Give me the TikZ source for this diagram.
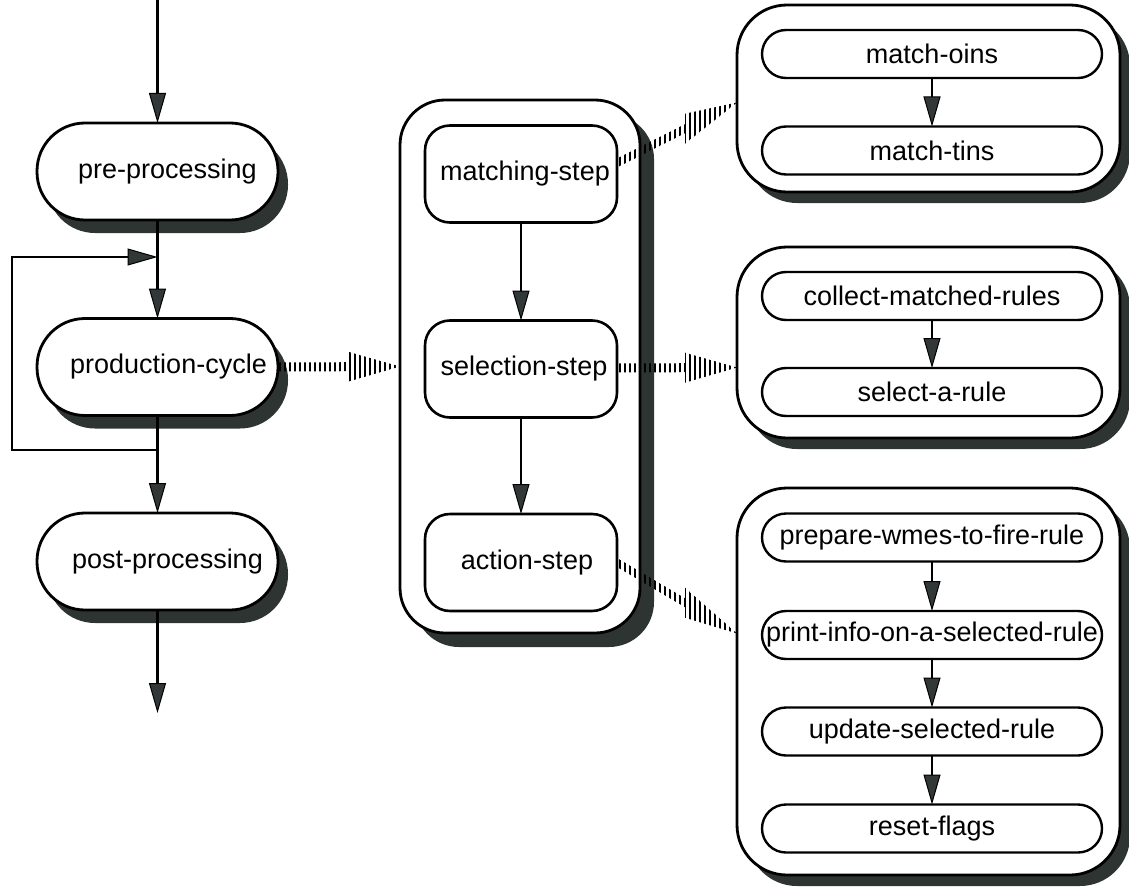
\documentclass[tikz,border=0pt]{standalone}
\usepackage{fontspec}
\setmainfont{Liberation Sans}
\usetikzlibrary{arrows.meta,shadows,calc,patterns.meta}
\definecolor{shadowc}{RGB}{45,52,50}
\definecolor{headc}{RGB}{50,55,55}
\tikzset{
  base/.style={draw=black, line width=2.6pt, fill=white, inner sep=0pt, outer sep=0pt,
    font=\fontsize{27}{32}\selectfont},
  lstad/.style={base, line width=2.8pt, minimum width=241pt, minimum height=97pt, rounded corners=48pt,
    drop shadow={shadow xshift=10pt, shadow yshift=-13pt, fill=shadowc, opacity=1}},
  midbox/.style={base, minimum width=192pt, minimum height=97pt, rounded corners=25pt},
  midouter/.style={base, line width=2.8pt, minimum width=240pt, minimum height=533pt, rounded corners=45pt,
    drop shadow={shadow xshift=14pt, shadow yshift=-14pt, fill=shadowc, opacity=1}},
  router/.style={base, line width=2.8pt, minimum width=383pt, rounded corners=50pt,
    drop shadow={shadow xshift=10pt, shadow yshift=-11pt, fill=shadowc, opacity=1}},
  rstad/.style={base, line width=2.4pt, minimum width=340pt, minimum height=48pt, rounded corners=24pt},
  arr/.style={line width=2.2pt, draw=black,
    -{Triangle[length=30pt,width=17pt,line width=1pt,fill=headc]}},
  hatch/.style={pattern={Lines[angle=90,distance=5pt,line width=2.6pt]}, pattern color=black},
}
\newcommand\hatchconn[2]{%
  \fill[hatch] let \p1=(#1), \p2=(#2), \n1={52/(\x2-\x1)}, \n2={\y1+(\y2-\y1)*(1-\n1)} in
   (\x1,{\y1+4.5pt}) -- ({\x2-52pt},{\n2*1pt+4.5pt}) -- ({\x2-52pt},{\n2*1pt+15pt}) -- (\p2)
   -- ({\x2-52pt},{\n2*1pt-15pt}) -- ({\x2-52pt},{\n2*1pt-4.5pt}) -- (\x1,{\y1-4.5pt}) -- cycle;}
\begin{document}
\begin{tikzpicture}[x=1pt,y=-1pt]
\useasboundingbox (0,0) rectangle (1129,888);

% left column
\node[lstad] (pre) at (157.5,171.5) {\hspace*{20pt}pre-processing};
\node[lstad] (prod) at (157.5,367) {\hspace*{22pt}production-cycle};
\node[lstad] (post) at (157.5,561.5) {\hspace*{20pt}post-processing};

\coordinate (top) at (157.5,0);
\coordinate (j1) at (157.5,257);
\coordinate (j2) at (157.5,450);
\coordinate (lb) at (12,450);
\coordinate (bot) at (157.5,713);

\draw[arr] (top) -- (pre.north);
\draw[arr] (pre.south) -- (prod.north);
\draw[arr] (prod.south) -- (post.north);
\draw[arr] (j2) -- (lb) |- (j1);
\draw[arr] (post.south) -- (bot);

% middle column
\node[midouter] (mid) at (520,366.5) {};
\node[midbox] (ms) at (521,174) {\hspace*{8pt}matching-step};
\node[midbox] (ss) at (521,369) {\hspace*{6pt}selection-step};
\node[midbox] (as) at (521,562.5) {\hspace*{12pt}action-step};
\draw[arr] (ms.south) -- (ss.north);
\draw[arr] (ss.south) -- (as.north);

% right column
\node[router, minimum height=187pt] (box1) at (928.5,98.5) {};
\node[rstad] (mo) at (932,54) {match-oins};
\node[rstad] (mt) at (932,150.5) {match-tins};
\draw[arr] (mo.south) -- (mt.north);

\node[router, minimum height=191pt] (box2) at (928.5,342.5) {};
\node[rstad] (cm) at (932,296) {collect-matched-rules};
\node[rstad] (sr) at (932,392) {select-a-rule};
\draw[arr] (cm.south) -- (sr.north);

\node[router, minimum height=387pt] (box3) at (928.5,681.5) {};
\node[rstad] (pw) at (932,537.5) {prepare-wmes-to-fire-rule};
\node[rstad] (pi) at (932,635) {print-info-on-a-selected-rule};
\node[rstad] (us) at (932,731.5) {update-selected-rule};
\node[rstad] (rf) at (932,828.5) {reset-flags};
\draw[arr] (pw.south) -- (pi.north);
\draw[arr] (pi.south) -- (us.north);
\draw[arr] (us.south) -- (rf.north);

% hatched connectors
\coordinate (h1s) at (prod.east);
\coordinate (h1e) at (mid.west);
\coordinate (h2s) at ($(ms.east)+(0,-11)$);
\coordinate (h2e) at ($(box1.west)+(0,4)$);
\coordinate (h3s) at ($(ss.east)+(0,-1)$);
\coordinate (h3e) at ($(box2.west)+(0,25)$);
\coordinate (h4s) at (as.east);
\coordinate (h4e) at ($(box3.west)+(0,-48)$);
\hatchconn{h1s}{h1e}
\hatchconn{h2s}{h2e}
\hatchconn{h3s}{h3e}
\hatchconn{h4s}{h4e}
\end{tikzpicture}
\end{document}
